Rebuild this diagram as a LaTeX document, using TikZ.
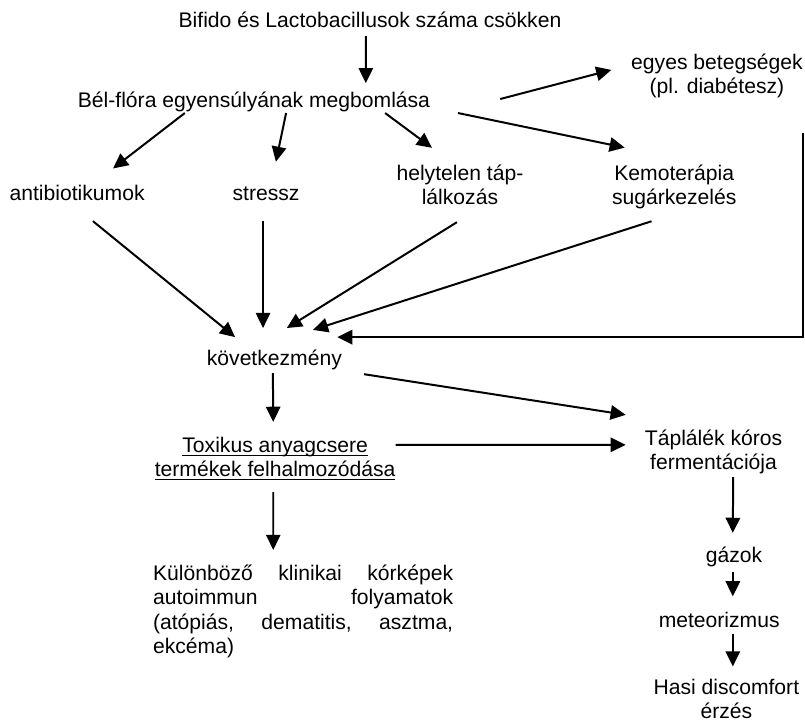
\documentclass[tikz,border=0pt]{standalone}
\usepackage{fontspec}
\setmainfont{Liberation Sans}
\usepackage{tikz}
\usetikzlibrary{arrows.meta}

\newsavebox\ulinebox
\newcommand{\ulined}[1]{\sbox\ulinebox{#1}\rlap{\rule[-2.6pt]{\wd\ulinebox}{1.1pt}}\usebox\ulinebox}

\begin{document}
\begin{tikzpicture}[
  txt/.style={inner sep=0pt, align=center, font=\fontsize{15.9}{18.4}\selectfont},
  arr/.style={-{Triangle[length=0.4cm, width=0.38cm]}, line width=1.5pt}
]
\useasboundingbox (0,0) rectangle (21.30,-19.10);

% Top chain
\node[txt] (bifido) at (9.79,-0.53) {Bifido és Lactobacillusok száma csökken};
\node[txt] (flora) at (6.72,-2.69) {Bél-flóra egyensúlyának megbomlása};
\node[txt] (disease) at (18.97,-2.01) {egyes betegségek\\(pl. diabétesz)};

% Causes
\node[txt] (antibio) at (2.04,-5.10) {antibiotikumok};
\node[txt] (stress) at (7.04,-5.12) {stressz};
\node[txt] (diet) at (12.17,-4.89) {helytelen táp-\\lálkozás};
\node[txt] (chemo) at (17.84,-4.94) {Kemoterápia\\sugárkezelés};

% Consequences
\node[txt] (result) at (7.26,-9.52) {következmény};
\node[txt] (toxic) at (7.28,-12.14) {\ulined{Toxikus anyagcsere}\\\ulined{termékek felhalmozódása}};
\node[txt] (ferment) at (18.88,-11.96) {Táplálék kóros\\fermentációja};
\node[txt, text width=7.94cm, align=justify] (clinical) at (8.02,-16.18)
  {Különböző klinikai kórképek\linebreak autoimmun folyamatok\linebreak (atópiás, dematitis, asztma,\linebreak ekcéma)};
\node[txt] (gas) at (19.42,-14.74) {gázok};
\node[txt] (meteor) at (19.03,-16.40) {meteorizmus};
\node[txt] (discomfort) at (19.22,-18.49) {Hasi discomfort\\érzés};

% Arrows from the imbalance
\draw[arr] ([xshift=-0.11cm,yshift=-0.21cm]bifido.south) -- ([xshift=2.96cm,yshift=0.22cm]flora.north);
\draw[arr] ([xshift=1.85cm,yshift=0.07cm]flora.east) -- ([xshift=-0.52cm,yshift=0.16cm]disease.west);
\draw[arr] ([xshift=-1.83cm,yshift=-0.03cm]flora.south) -- ([xshift=0.95cm,yshift=0.43cm]antibio.north);
\draw[arr] ([xshift=0.85cm,yshift=-0.03cm]flora.south) -- ([xshift=0.26cm,yshift=0.65cm]stress.north);
\draw[arr] ([xshift=3.47cm,yshift=-0.03cm]flora.south) -- ([xshift=-0.74cm,yshift=0.44cm]diet.north);
\draw[arr] ([xshift=5.40cm,yshift=-0.03cm]flora.south) -- ([xshift=-1.31cm,yshift=0.44cm]chemo.north);

% Arrows into the consequence
\draw[arr] ([xshift=0.42cm,yshift=-0.54cm]antibio.south) -- ([xshift=-1.04cm,yshift=0.33cm]result.north);
\draw[arr] ([xshift=-0.08cm,yshift=-0.54cm]stress.south) -- ([xshift=-0.30cm,yshift=0.57cm]result.north);
\draw[arr] ([xshift=-0.08cm,yshift=-0.45cm]diet.south) -- ([xshift=0.33cm,yshift=0.57cm]result.north);
\draw[arr] ([xshift=-0.60cm,yshift=-0.32cm]chemo.south) -- ([xshift=1.02cm,yshift=0.52cm]result.north);
\draw[arr] ([xshift=-0.01cm,yshift=-0.91cm]disease.south east) |- ([xshift=-0.13cm,yshift=0.33cm]result.north east);

% Lower part
\draw[arr] ([xshift=-0.04cm,yshift=-0.08cm]result.south) -- ([xshift=-0.05cm,yshift=0.40cm]toxic.north);
\draw[arr] ([xshift=0.58cm,yshift=-0.11cm]result.south east) -- ([xshift=-0.50cm,yshift=0.39cm]ferment.north west);
\draw[arr] ([yshift=0.37cm]toxic.east) -- ([xshift=-0.50cm,yshift=0.19cm]ferment.west);
\draw[arr] ([xshift=-0.05cm,yshift=-0.30cm]toxic.south) -- ([xshift=-0.79cm,yshift=0.39cm]clinical.north);
\draw[arr] ([xshift=0.52cm,yshift=-0.07cm]ferment.south) -- ([xshift=-0.03cm,yshift=0.37cm]gas.north);
\draw[arr] ([xshift=-0.03cm,yshift=-0.13cm]gas.south) -- ([xshift=0.36cm,yshift=0.41cm]meteor.north);
\draw[arr] ([xshift=0.36cm,yshift=-0.15cm]meteor.south) -- ([xshift=0.17cm,yshift=0.32cm]discomfort.north);

\end{tikzpicture}
\end{document}
